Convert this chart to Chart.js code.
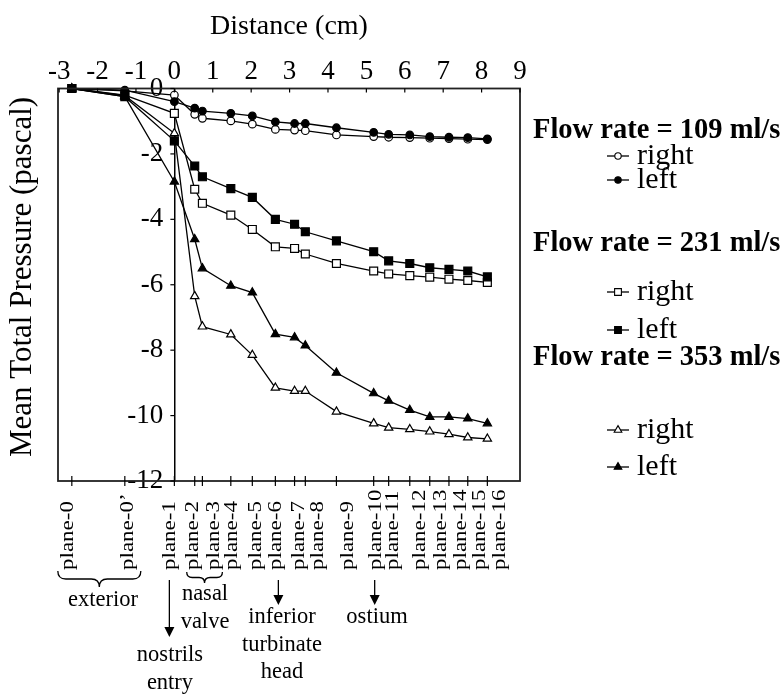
<!DOCTYPE html>
<html>
<head>
<meta charset="utf-8">
<script src="https://cdn.jsdelivr.net/npm/chart.js@4.4.1/dist/chart.umd.min.js"></script>
<style>
  html, body { margin: 0; padding: 0; background: #fff; }
  #wrap { width: 784px; height: 696px; }
</style>
</head>
<body>
<div id="wrap"><canvas id="c" width="784" height="696"></canvas></div>
<script>
// ---------------- data ----------------
const planeLabels = ["plane-0", "plane-0\u2019", "plane-1", "plane-2", "plane-3", "plane-4", "plane-5", "plane-6",
  "plane-7", "plane-8", "plane-9", "plane-10", "plane-11", "plane-12", "plane-13", "plane-14", "plane-15", "plane-16"];
const distanceCm = [-2.67, -1.29, 0, 0.53, 0.73, 1.47, 2.03, 2.63, 3.13, 3.41, 4.22, 5.19, 5.58, 6.13, 6.65, 7.15, 7.64, 8.15];
const topTicks = [-3, -2, -1, 0, 1, 2, 3, 4, 5, 6, 7, 8, 9];
const yTicks = [0, -2, -4, -6, -8, -10, -12];

const q109Right = [0, -0.07, -0.20, -0.79, -0.91, -0.99, -1.09, -1.25, -1.27, -1.29, -1.42, -1.47, -1.49, -1.50, -1.52, -1.53, -1.55, -1.56];
const q109Left  = [0, -0.05, -0.40, -0.60, -0.69, -0.76, -0.84, -1.02, -1.07, -1.07, -1.20, -1.34, -1.40, -1.42, -1.47, -1.49, -1.50, -1.54];
const q231Right = [0, -0.20, -0.76, -3.08, -3.51, -3.87, -4.31, -4.84, -4.89, -5.06, -5.35, -5.58, -5.67, -5.72, -5.77, -5.83, -5.87, -5.93];
const q231Left  = [0, -0.25, -1.60, -2.37, -2.70, -3.06, -3.33, -4.00, -4.15, -4.38, -4.66, -4.99, -5.27, -5.35, -5.48, -5.53, -5.58, -5.76];
const q353Right = [0, -0.22, -1.37, -6.35, -7.28, -7.52, -8.15, -9.15, -9.25, -9.25, -9.88, -10.24, -10.37, -10.42, -10.49, -10.57, -10.67, -10.71];
const q353Left  = [0, -0.25, -2.85, -4.61, -5.50, -6.03, -6.24, -7.51, -7.61, -7.86, -8.69, -9.32, -9.55, -9.83, -10.04, -10.04, -10.09, -10.24];

const groupTitles = ["Flow rate = 109 ml/s", "Flow rate = 231 ml/s", "Flow rate = 353 ml/s"];
const sideNames = ["right", "left"];
const xTitle = "Distance (cm)";
const yTitle = "Mean Total Pressure (pascal)";

// ---------------- layout (pixels, not data) ----------------
const FONT = '"Liberation Serif", "Times New Roman", "DejaVu Serif", serif';
// horizontal nudges of the rotated plane labels away from their tick, as in the original figure
const planeLabelNudge = [-4, 3, -4.5, -1, 12, 1, 4, 1, 5, 13, 12, 3, 5, 11, 12, 12, 13, 13];

function makeDs(label, values, style, filled, radius, order) {
  return {
    label: label,
    data: distanceCm.map((x, i) => ({ x: x, y: values[i] })),
    borderColor: '#000',
    borderWidth: 1.3,
    pointStyle: style,
    pointRadius: radius,
    pointHoverRadius: radius,
    pointBackgroundColor: filled ? '#000' : '#fff',
    pointBorderColor: '#000',
    pointBorderWidth: 1.2,
    fill: false,
    tension: 0,
    clip: false,
    order: order
  };
}

const datasets = [
  makeDs(groupTitles[0] + ' ' + sideNames[0], q109Right, 'circle', false, 3.8, 1),
  makeDs(groupTitles[0] + ' ' + sideNames[1], q109Left, 'circle', true, 3.8, 0),
  makeDs(groupTitles[1] + ' ' + sideNames[0], q231Right, 'rect', false, 5.6, 1),
  makeDs(groupTitles[1] + ' ' + sideNames[1], q231Left, 'rect', true, 5.6, 0),
  makeDs(groupTitles[2] + ' ' + sideNames[0], q353Right, 'triangle', false, 4.8, 1),
  makeDs(groupTitles[2] + ' ' + sideNames[1], q353Left, 'triangle', true, 4.8, 0)
];

// ---------------- drawing helpers ----------------
function marker(ctx, style, x, y, r, filled) {
  ctx.save();
  ctx.beginPath();
  if (style === 'circle') {
    ctx.arc(x, y, r, 0, Math.PI * 2);
  } else if (style === 'rect') {
    const s = Math.SQRT1_2 * r;
    ctx.rect(x - s, y - s, 2 * s, 2 * s);
  } else {
    let a = 0;
    ctx.moveTo(x + Math.sin(a) * r, y - Math.cos(a) * r);
    a += 2 * Math.PI / 3;
    ctx.lineTo(x + Math.sin(a) * r, y - Math.cos(a) * r);
    a += 2 * Math.PI / 3;
    ctx.lineTo(x + Math.sin(a) * r, y - Math.cos(a) * r);
    ctx.closePath();
  }
  ctx.fillStyle = filled ? '#000' : '#fff';
  ctx.fill();
  ctx.lineWidth = 1.1;
  ctx.strokeStyle = '#000';
  ctx.stroke();
  ctx.restore();
}

function brace(ctx, x1, x2, y, h) {
  const xm = (x1 + x2) / 2, q = h / 2;
  ctx.beginPath();
  ctx.moveTo(x1, y);
  ctx.quadraticCurveTo(x1, y + q, x1 + q, y + q);
  ctx.lineTo(xm - q, y + q);
  ctx.quadraticCurveTo(xm, y + q, xm, y + h);
  ctx.quadraticCurveTo(xm, y + q, xm + q, y + q);
  ctx.lineTo(x2 - q, y + q);
  ctx.quadraticCurveTo(x2, y + q, x2, y);
  ctx.stroke();
}

function arrow(ctx, x, y1, y2) {
  ctx.beginPath();
  ctx.moveTo(x, y1);
  ctx.lineTo(x, y2 - 8);
  ctx.stroke();
  ctx.beginPath();
  ctx.moveTo(x - 5, y2 - 10);
  ctx.lineTo(x + 5, y2 - 10);
  ctx.lineTo(x, y2);
  ctx.closePath();
  ctx.fill();
}

const decorations = {
  id: 'decorations',
  beforeDraw(chart) {
    const ctx = chart.ctx;
    ctx.save();
    ctx.fillStyle = '#fff';
    ctx.fillRect(0, 0, chart.width, chart.height);
    ctx.restore();
  },
  afterDraw(chart) {
    const ctx = chart.ctx;
    const a = chart.chartArea;
    const xs = chart.scales.x, ys = chart.scales.y;
    ctx.save();
    // frame
    ctx.strokeStyle = '#222';
    ctx.lineWidth = 1.8;
    ctx.strokeRect(a.left, a.top, a.right - a.left, a.bottom - a.top);

    ctx.strokeStyle = '#000';
    ctx.lineWidth = 1.2;
    // top inner ticks
    topTicks.forEach(v => {
      const px = xs.getPixelForValue(v);
      ctx.beginPath(); ctx.moveTo(px, a.top); ctx.lineTo(px, a.top + 4); ctx.stroke();
    });
    // y ticks left of the axis line
    const x0 = xs.getPixelForValue(0);
    yTicks.forEach(v => {
      const py = ys.getPixelForValue(v);
      ctx.beginPath(); ctx.moveTo(x0 - 4, py); ctx.lineTo(x0, py); ctx.stroke();
    });
    // bottom ticks crossing the frame
    distanceCm.forEach(v => {
      const px = xs.getPixelForValue(v);
      ctx.beginPath(); ctx.moveTo(px, a.bottom - 5); ctx.lineTo(px, a.bottom + 5); ctx.stroke();
    });

    // plane labels (rotated, reading upward)
    ctx.fillStyle = '#000';
    ctx.font = '23px ' + FONT;
    ctx.textAlign = 'left';
    ctx.textBaseline = 'middle';
    planeLabels.forEach((lab, i) => {
      const px = xs.getPixelForValue(distanceCm[i]) + planeLabelNudge[i];
      ctx.save();
      ctx.translate(px, 570);
      ctx.rotate(-Math.PI / 2);
      ctx.scale(1, 0.78);
      ctx.fillText(lab, 0, 0);
      ctx.restore();
    });

    // braces and arrows
    ctx.lineWidth = 1.3;
    const p0 = xs.getPixelForValue(distanceCm[0]);
    const p0b = xs.getPixelForValue(distanceCm[1]);
    brace(ctx, p0 - 14, p0b + 16, 571, 16);
    const p2 = xs.getPixelForValue(distanceCm[3]);
    const p3 = xs.getPixelForValue(distanceCm[4]);
    brace(ctx, p2 - 8, p3 + 20, 572, 11);
    ctx.fillStyle = '#000';
    arrow(ctx, xs.getPixelForValue(distanceCm[2]) - 5, 580, 637);
    arrow(ctx, xs.getPixelForValue(distanceCm[7]) + 3, 580, 605);
    arrow(ctx, xs.getPixelForValue(distanceCm[11]) + 1, 580, 605);

    // annotation texts
    ctx.font = '22.5px ' + FONT;
    ctx.textAlign = 'center';
    ctx.textBaseline = 'middle';
    const notes = [
      ['exterior', 103, 600], ['nasal', 205, 594], ['valve', 205, 622],
      ['inferior', 282, 617], ['turbinate', 282, 645], ['head', 282, 672],
      ['ostium', 377, 617], ['nostrils', 170, 655], ['entry', 170, 683]
    ];
    notes.forEach(n => ctx.fillText(n[0], n[1], n[2]));

    // y axis title
    ctx.save();
    ctx.font = '31px ' + FONT;
    ctx.translate(23, 277);
    ctx.rotate(-Math.PI / 2);
    ctx.fillText(yTitle, 0, 0);
    ctx.restore();

    // legend
    const headY = [131, 244, 358];
    const rowY = [[156, 180], [292, 330], [430, 467]];
    const styles = ['circle', 'rect', 'triangle'];
    const radii = [3.2, 4.8, 4.4];
    ctx.textAlign = 'left';
    for (let g = 0; g < 3; g++) {
      ctx.font = 'bold 28.5px ' + FONT;
      ctx.fillStyle = '#000';
      ctx.fillText(groupTitles[g], 533, headY[g]);
      for (let s = 0; s < 2; s++) {
        const y = rowY[g][s];
        ctx.strokeStyle = '#000';
        ctx.lineWidth = 1.3;
        ctx.beginPath(); ctx.moveTo(607, y); ctx.lineTo(629, y); ctx.stroke();
        marker(ctx, styles[g], 618, y, radii[g], s === 1);
        ctx.fillStyle = '#000';
        ctx.font = '30px ' + FONT;
        ctx.fillText(sideNames[s], 637, y);
      }
    }
    ctx.restore();
  }
};

new Chart(document.getElementById('c'), {
  type: 'line',
  data: { datasets: datasets },
  options: {
    responsive: false,
    animation: false,
    devicePixelRatio: 1,
    layout: { padding: { left: 58, right: 264, top: 0, bottom: 215 } },
    plugins: { legend: { display: false }, tooltip: { enabled: false } },
    scales: {
      x: { type: 'linear', min: -3.03, max: 9, display: false },
      x2: {
        type: 'linear', position: 'top', min: -3.03, max: 9,
        afterBuildTicks: s => { s.ticks = topTicks.map(v => ({ value: v })); },
        afterFit: s => { s.height = 88.5; },
        ticks: { font: { family: FONT, size: 27 }, color: '#000', padding: 0, maxRotation: 0, autoSkip: false },
        grid: { display: false, drawTicks: false },
        border: { display: false },
        title: { display: true, text: xTitle, color: '#000', font: { family: FONT, size: 28 }, padding: { top: 10, bottom: 0 } }
      },
      // labelled value axis, set a little left of the x = 0 line so its labels clear the line
      y: {
        type: 'linear', min: -12, max: 0, position: { x: -0.29 },
        afterBuildTicks: s => { s.ticks = yTicks.map(v => ({ value: v })); },
        ticks: { font: { family: FONT, size: 27 }, color: '#000', padding: 0 },
        grid: { display: false, drawTicks: false },
        border: { display: false }
      },
      // the vertical axis line drawn at x = 0
      yLine: {
        type: 'linear', min: -12, max: 0, position: { x: 0 },
        ticks: { display: false },
        grid: { display: false, drawTicks: false },
        border: { display: true, color: '#000', width: 1.5 }
      }
    }
  },
  plugins: [decorations]
});
</script>
</body>
</html>
